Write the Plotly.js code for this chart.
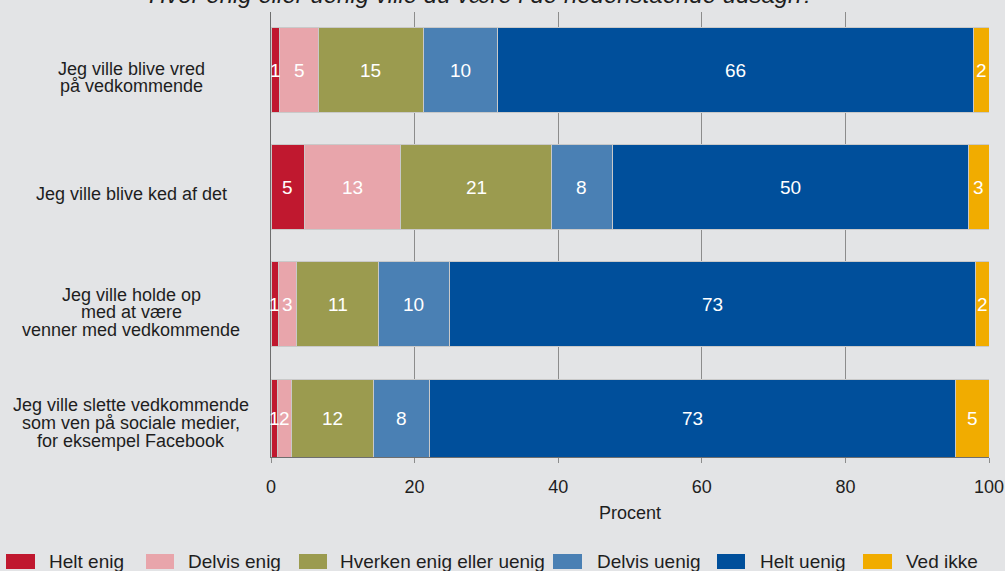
<!DOCTYPE html>
<html>
<head>
<meta charset="utf-8">
<script src="https://cdn.plot.ly/plotly-3.0.1.min.js"></script>
<style>html,body{margin:0;padding:0;background:#e3e4e6;}</style>
</head>
<body>
<div id="chart" style="width:1005px;height:571px;"></div>
<script>
// Categories (top to bottom), each label split into its lines
var categories = [
  ["Jeg ville blive vred", "på vedkommende"],
  ["Jeg ville blive ked af det"],
  ["Jeg ville holde op", "med at være", "venner med vedkommende"],
  ["Jeg ville slette vedkommende", "som ven på sociale medier,", "for eksempel Facebook"]
];
var seriesNames = ["Helt enig", "Delvis enig", "Hverken enig eller uenig", "Delvis uenig", "Helt uenig", "Ved ikke"];
// Percent values per series, one entry per category (top to bottom)
var heltEnig    = [1.25, 4.7, 1.0, 0.85];
var delvisEnig  = [5.3, 13.4, 2.6, 1.95];
var hverken     = [14.65, 21.0, 11.4, 11.5];
var delvisUenig = [10.3, 8.4, 9.8, 7.8];
var heltUenig   = [66.3, 49.7, 73.25, 73.3];
var vedIkke     = [2.2, 2.8, 1.95, 4.6];
var xTicks = [0, 20, 40, 60, 80, 100];
var titleText = "Hvor enig eller uenig ville du være i de nedenstående udsagn?";
var xTitle = "Procent";

var series = [heltEnig, delvisEnig, hverken, delvisUenig, heltUenig, vedIkke];
var colors = ["#c0182f", "#e8a5ab", "#9b9b4f", "#4a80b4", "#004f9b", "#f1ac00"];
var FONT = "Liberation Sans, Arial, sans-serif";

// plot-area pixel geometry helpers
var L = 271, R = 989, T = 12, B = 457;
var Y_RANGE = [3.303, -0.495];
var BAR_W = 0.725;
function px2xp(px){ return (px - L) / (R - L); }
function py2yp(py){ return (B - py) / (B - T); }

var rowIdx = categories.map(function(_, i){ return i; });
var traces = series.map(function(vals, s){
  return {
    type: "bar", orientation: "h", name: seriesNames[s],
    x: vals, y: rowIdx, width: BAR_W,
    marker: {color: colors[s], line: {color: "#c9c9c9", width: 1}},
    textposition: "none", hoverinfo: "x+name", showlegend: false
  };
});

var annotations = [];
// value labels centred in the visible part of each bar
rowIdx.forEach(function(r){
  var lo = Math.max(r - BAR_W / 2, Y_RANGE[1]);
  var hi = Math.min(r + BAR_W / 2, Y_RANGE[0]);
  var yc = (lo + hi) / 2;
  var cum = 0;
  series.forEach(function(vals){
    var v = vals[r];
    annotations.push({
      x: cum + v / 2, y: yc, xref: "x", yref: "y", showarrow: false,
      text: String(Math.round(v)),
      font: {family: FONT, size: 19, color: "#ffffff"}
    });
    cum += v;
  });
});
// category labels (tight line spacing)
var linePix = [[69, 86], [194], [295, 312, 330], [405, 423, 441]];
categories.forEach(function(lines, r){
  lines.forEach(function(t, k){
    annotations.push({
      x: px2xp(131), y: py2yp(linePix[r][k]), xref: "paper", yref: "paper",
      xanchor: "center", yanchor: "middle", showarrow: false, text: t,
      font: {family: FONT, size: 18, color: "#1e1e1e"}
    });
  });
});
// title (cut off at the top in the original)
annotations.push({
  x: px2xp(482), y: py2yp(-6), xref: "paper", yref: "paper",
  xanchor: "center", yanchor: "middle", showarrow: false,
  text: "<i>" + titleText + "</i>",
  font: {family: FONT, size: 24, color: "#1e1e1e"}
});
// manual legend
var legSw = [[6, 35], [146, 174], [299, 327], [553, 582], [717, 745], [863, 892]];
var legTx = [47, 186, 338, 595, 758, 904];
var shapes = [];
seriesNames.forEach(function(n, s){
  shapes.push({
    type: "rect", xref: "paper", yref: "paper",
    x0: px2xp(legSw[s][0]), x1: px2xp(legSw[s][1]),
    y0: py2yp(569), y1: py2yp(554),
    fillcolor: colors[s], line: {width: 0}
  });
  annotations.push({
    x: px2xp(legTx[s]), y: py2yp(561), xref: "paper", yref: "paper",
    xanchor: "left", yanchor: "middle", showarrow: false, text: n,
    font: {family: FONT, size: 19, color: "#1e1e1e"}
  });
});

var layout = {
  width: 1005, height: 571,
  margin: {l: L, r: 1005 - R, t: T, b: 571 - B, pad: 0},
  paper_bgcolor: "#e3e4e6", plot_bgcolor: "#e3e4e6",
  barmode: "stack", showlegend: false,
  font: {family: FONT, color: "#1e1e1e"},
  xaxis: {
    range: [0, 100], tickvals: xTicks, ticktext: xTicks.map(String),
    showgrid: true, gridcolor: "#8c8c8c", gridwidth: 1,
    showline: true, linecolor: "#6e6e6e", linewidth: 1,
    ticks: "outside", ticklen: 5, tickcolor: "#8c8c8c",
    ticklabelstandoff: 8,
    tickfont: {family: FONT, size: 18, color: "#1e1e1e"},
    zeroline: false,
    title: {text: xTitle, font: {family: FONT, size: 18, color: "#1e1e1e"}, standoff: 10}
  },
  yaxis: {
    range: Y_RANGE, showticklabels: false, showgrid: false,
    zeroline: false, showline: true, linecolor: "#6e6e6e", linewidth: 1, ticks: ""
  },
  annotations: annotations, shapes: shapes
};
Plotly.newPlot("chart", traces, layout, {displayModeBar: false, staticPlot: true});
</script>
</body>
</html>
